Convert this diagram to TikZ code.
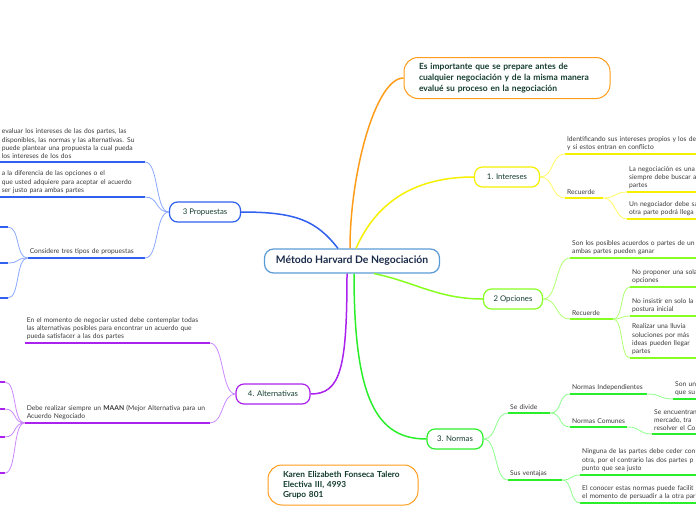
\documentclass[tikz,border=0pt]{standalone}
\usepackage{fontspec}
\setmainfont{Lato}
\usetikzlibrary{positioning}

\definecolor{hubblue}{HTML}{5B9BD5}
\definecolor{hubtext}{HTML}{1B2B4B}
\definecolor{nodetext}{HTML}{143D2E}
\definecolor{leaftext}{HTML}{3A3A3A}
\definecolor{cOrange}{HTML}{FF9C1A}
\definecolor{cYellow}{HTML}{F5F000}
\definecolor{cYellowL}{HTML}{FFFF66}
\definecolor{cLime}{HTML}{88FF22}
\definecolor{cLimeL}{HTML}{B0FF70}
\definecolor{cGreen}{HTML}{2BEE2B}
\definecolor{cGreenL}{HTML}{8CFF8C}
\definecolor{cBlue}{HTML}{3060F0}
\definecolor{cBlueL}{HTML}{8AA8FF}
\definecolor{cPurple}{HTML}{AA22EE}
\definecolor{cPurpleL}{HTML}{CC88FF}

\begin{document}
\begin{tikzpicture}[x=1pt, y=-1pt,
  hub/.style={draw=hubblue, line width=1.2pt, rounded corners=9pt, fill=white, minimum width=175pt, minimum height=24pt, text=hubtext, font=\bfseries\fontsize{10.4}{12}\selectfont},
  topic/.style={draw=#1, line width=1.2pt, rounded corners=8pt, fill=white, minimum height=20pt, text=nodetext, font=\fontsize{7.8}{9}\selectfont},
  note/.style={draw=#1, line width=1pt, rounded corners=14pt, fill=white, text=nodetext, align=left, inner xsep=15pt, font=\bfseries\fontsize{8.5}{11}\selectfont},
  leaf/.style={inner xsep=2pt, inner ysep=3pt, align=left, text=leaftext, font=\fontsize{6.7}{8.3}\selectfont,
    append after command={(\tikzlastnode.south west) edge[line width=2.2pt, draw=#1] (\tikzlastnode.south east)}},
  branch/.style={draw=#1, line width=1.5pt},
  sub/.style={draw=#1, line width=0.8pt}]
\useasboundingbox (0,0) rectangle (696,520);

% Center and main topics
\node[hub] (hub) at (352,261) {Método Harvard De Negociación};
\node[note=cOrange, minimum width=206pt, minimum height=41pt, text width=176pt] (imp) at (507,78) {Es importante que se prepare antes de\\ cualquier negociación y de la misma manera\\ evalué su proceso en la negociación};
\node[topic=cYellow, minimum width=65pt] (int) at (507,177) {1. Intereses};
\node[topic=cLime, minimum width=59pt] (opc) at (513,299) {2 Opciones};
\node[topic=cGreen, minimum width=56pt] (nor) at (455,439) {3. Normas};
\node[topic=cBlue, minimum width=71pt] (prop) at (205,212) {3 Propuestas};
\node[topic=cPurple, minimum width=74pt] (alt) at (273,394) {4. Alternativas};
\node[note=cOrange, minimum width=150pt, minimum height=40pt, text width=120pt, font=\bfseries\fontsize{8.3}{10}\selectfont] (aut) at (343,485) {Karen Elizabeth Fonseca Talero\\ Electiva III, 4993\\ Grupo 801};

% Main branches
\draw[branch=cOrange] ([xshift=-2pt]hub.north) .. controls +(0,-75) and +(-28,0) .. (imp.west);
\draw[branch=cYellow] ([xshift=4pt]hub.north) .. controls +(22,-50) and +(-55,0) .. (int.west);
\draw[branch=cBlue] ([xshift=-14pt]hub.north) .. controls +(-22,-28) and +(55,0) .. (prop.east);
\draw[branch=cLime] ([xshift=22pt]hub.south) .. controls +(40,8) and +(-45,0) .. (opc.west);
\draw[branch=cGreen] ([xshift=2pt]hub.south) .. controls +(0,125) and +(-50,0) .. (nor.west);
\draw[branch=cPurple] ([xshift=-5pt]hub.south) .. controls +(0,95) and +(30,0) .. (alt.east);

% Intereses
\node[leaf=cYellow, anchor=south west, text width=200pt] (i1) at (565,154) {Identificando sus intereses propios y los de\\ y si estos entran en conflicto};
\node[leaf=cYellow, anchor=south west, text width=34pt] (i2) at (565,198) {Recuerde};
\node[leaf=cYellow, anchor=south west, text width=100pt] (i3) at (627,192) {La negociación es una\\ siempre debe buscar a\\ partes};
\node[leaf=cYellow, anchor=south west, text width=100pt] (i4) at (627,219) {Un negociador debe sa\\ otra parte podrá llega};
\draw[sub=cYellowL] (int.east) .. controls +(14,0) and +(-14,0) .. (i1.south west);
\draw[sub=cYellowL] (int.east) .. controls +(14,0) and +(-14,0) .. (i2.south west);
\draw[sub=cYellowL] (i2.south east) .. controls +(12,0) and +(-12,0) .. (i3.south west);
\draw[sub=cYellowL] (i2.south east) .. controls +(12,0) and +(-12,0) .. (i4.south west);

% Opciones
\node[leaf=cLime, anchor=south west, text width=200pt] (o1) at (570,258) {Son los posibles acuerdos o partes de un\\ ambas partes pueden ganar};
\node[leaf=cLime, anchor=south west, text width=39pt] (o2) at (570,319) {Recuerde};
\node[leaf=cLime, anchor=south west, text width=100pt] (o3) at (630,287) {No proponer una sola\\ opciones};
\node[leaf=cLime, anchor=south west, text width=100pt] (o4) at (630,316) {No insistir en solo la\\ postura inicial};
\node[leaf=cLime, anchor=south west, text width=100pt] (o5) at (630,358) {Realizar una lluvia\\ soluciones por más\\ ideas pueden llegar\\ partes};
\draw[sub=cLimeL] (opc.east) .. controls +(15,0) and +(-15,0) .. (o1.south west);
\draw[sub=cLimeL] (opc.east) .. controls +(15,0) and +(-15,0) .. (o2.south west);
\draw[sub=cLimeL] (o2.south east) .. controls +(10,0) and +(-10,0) .. (o3.south west);
\draw[sub=cLimeL] (o2.south east) .. controls +(10,0) and +(-10,0) .. (o4.south west);
\draw[sub=cLimeL] (o2.south east) .. controls +(10,0) and +(-10,0) .. (o5.south west);

% Normas
\node[leaf=cGreen, anchor=south west, text width=38pt] (n1) at (508,413) {Se divide};
\node[leaf=cGreen, anchor=south west, text width=73pt] (n2) at (570,394) {Normas Independientes};
\node[leaf=cGreen, anchor=south west, text width=60pt] (n3) at (673,399) {Son un\\ que su};
\node[leaf=cGreen, anchor=south west, text width=53pt] (n4) at (570,427) {Normas Comunes};
\node[leaf=cGreen, anchor=south west, text width=80pt] (n5) at (652,434) {Se encuentran\\ mercado, tra\\ resolver el Co};
\node[leaf=cGreen, anchor=south west, text width=50pt] (n6) at (508,480) {Sus ventajas};
\node[leaf=cGreen, anchor=south west, text width=200pt] (n7) at (580,475) {Ninguna de las partes debe ceder con\\ otra, por el contrario las dos partes p\\ punto que sea justo};
\node[leaf=cGreen, anchor=south west, text width=200pt] (n8) at (580,503) {El conocer estas normas puede facilit\\ el momento de persuadir a la otra par};
\draw[sub=cGreenL] (nor.east) .. controls +(14,0) and +(-14,0) .. (n1.south west);
\draw[sub=cGreenL] (nor.east) .. controls +(14,0) and +(-14,0) .. (n6.south west);
\draw[sub=cGreenL] (n1.south east) .. controls +(12,0) and +(-12,0) .. (n2.south west);
\draw[sub=cGreenL] (n1.south east) .. controls +(12,0) and +(-12,0) .. (n4.south west);
\draw[sub=cGreenL] (n2.south east) .. controls +(14,0) and +(-14,0) .. (n3.south west);
\draw[sub=cGreenL] (n4.south east) .. controls +(14,0) and +(-14,0) .. (n5.south west);
\draw[sub=cGreenL] (n6.south east) .. controls +(10,0) and +(-10,0) .. (n7.south west);
\draw[sub=cGreenL] (n6.south east) .. controls +(10,0) and +(-10,0) .. (n8.south west);

% Propuestas
\node[leaf=cBlue, anchor=south east, text width=141pt] (p1) at (145,162) {evaluar los intereses de las dos partes, las\\ disponibles, las normas y las alternativas. Su\\ puede plantear una propuesta la cual pueda\\ los intereses de los dos};
\node[leaf=cBlue, anchor=south east, text width=141pt] (p2) at (145,197) {a la diferencia de las opciones o el\\ que usted adquiere para aceptar el acuerdo\\ ser justo para ambas partes};
\node[leaf=cBlue, anchor=south east, text width=113pt] (p3) at (145,258) {Considere tres tipos de propuestas};
\node[leaf=cBlue, anchor=south east, text width=40pt] (p4) at (8,227) {};
\node[leaf=cBlue, anchor=south east, text width=40pt] (p5) at (8,263) {};
\node[leaf=cBlue, anchor=south east, text width=40pt] (p6) at (8,298) {};
\draw[sub=cBlueL] (prop.west) .. controls +(-14,0) and +(14,0) .. (p1.south east);
\draw[sub=cBlueL] (prop.west) .. controls +(-14,0) and +(14,0) .. (p2.south east);
\draw[sub=cBlueL] (prop.west) .. controls +(-14,0) and +(14,0) .. (p3.south east);
\draw[sub=cBlueL] (p3.south west) .. controls +(-12,0) and +(12,0) .. (p4.south east);
\draw[sub=cBlueL] (p3.south west) .. controls +(-12,0) and +(12,0) .. (p5.south east);
\draw[sub=cBlueL] (p3.south west) .. controls +(-12,0) and +(12,0) .. (p6.south east);

% Alternativas
\node[leaf=cPurple, anchor=south east, text width=181pt] (a1) at (210,343) {En el momento de negociar usted debe contemplar todas\\ las alternativas posibles para encontrar un acuerdo que\\ pueda satisfacer a las dos partes};
\node[leaf=cPurple, anchor=south east, text width=181pt] (a2) at (210,423) {Debe realizar siempre un \textbf{MAAN} (Mejor Alternativa para un\\ Acuerdo Negociado};
\node[leaf=cPurple, anchor=south east, text width=30pt] (a3) at (5,382) {};
\node[leaf=cPurple, anchor=south east, text width=30pt] (a4) at (5,409) {};
\node[leaf=cPurple, anchor=south east, text width=30pt] (a5) at (5,437) {};
\node[leaf=cPurple, anchor=south east, text width=30pt] (a6) at (5,473) {};
\draw[sub=cPurpleL] (alt.west) .. controls +(-14,0) and +(14,0) .. (a1.south east);
\draw[sub=cPurpleL] (alt.west) .. controls +(-14,0) and +(14,0) .. (a2.south east);
\draw[sub=cPurpleL] (a2.south west) .. controls +(-12,0) and +(12,0) .. (a3.south east);
\draw[sub=cPurpleL] (a2.south west) .. controls +(-12,0) and +(12,0) .. (a4.south east);
\draw[sub=cPurpleL] (a2.south west) .. controls +(-12,0) and +(12,0) .. (a5.south east);
\draw[sub=cPurpleL] (a2.south west) .. controls +(-12,0) and +(12,0) .. (a6.south east);
\end{tikzpicture}
\end{document}
